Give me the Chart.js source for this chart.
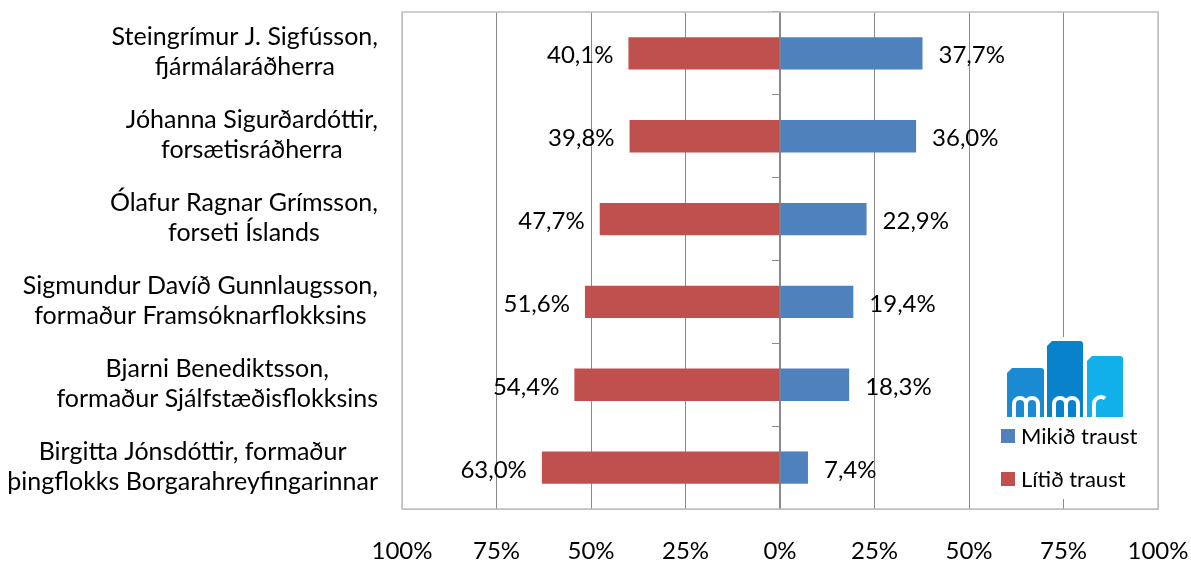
<!DOCTYPE html>
<html lang="is">
<head>
<meta charset="UTF-8">
<title>Traust</title>
<script src="https://cdn.jsdelivr.net/npm/chart.js@4.4.1/dist/chart.umd.min.js"></script>
<style>
  html, body { margin: 0; padding: 0; background: #fff; }
</style>
</head>
<body>
<canvas id="trustChart" width="1191" height="561"></canvas>
<script>
// data
var people = [
  ['Steingrímur J. Sigfússon,', 'fjármálaráðherra'],
  ['Jóhanna Sigurðardóttir,', 'forsætisráðherra'],
  ['Ólafur Ragnar Grímsson,', 'forseti Íslands'],
  ['Sigmundur Davíð Gunnlaugsson,', 'formaður Framsóknarflokksins'],
  ['Bjarni Benediktsson,', 'formaður Sjálfstæðisflokksins'],
  ['Birgitta Jónsdóttir, formaður', 'þingflokks Borgarahreyfingarinnar']
];
var mikidTraust = [37.7, 36.0, 22.9, 19.4, 18.3, 7.4];
var litidTraust = [40.1, 39.8, 47.7, 51.6, 54.4, 63.0];
var xTickValues = [-100, -75, -50, -25, 0, 25, 50, 75, 100];

var FONT = 'Lato';
var blue = '#4F81BD';
var red = '#C0504D';

function pct(v) {
  return Math.abs(v).toFixed(1).replace('.', ',') + '%';
}

// two-line category labels, block right aligned, lines centred inside block
var categoryLabels = {
  id: 'categoryLabels',
  afterDraw: function(chart) {
    var ctx = chart.ctx;
    var yScale = chart.scales.y;
    var right = chart.chartArea.left - 24;
    ctx.save();
    ctx.font = '25px ' + FONT;
    ctx.fillStyle = '#000';
    ctx.textAlign = 'center';
    ctx.textBaseline = 'alphabetic';
    people.forEach(function(lines, i) {
      var w = Math.max.apply(null, lines.map(function(l) { return ctx.measureText(l).width; }));
      var cx = right - w / 2;
      var cy = yScale.getPixelForValue(i);
      ctx.fillText(lines[0], cx, cy - 8);
      ctx.fillText(lines[1], cx, cy + 22);
    });
    ctx.restore();
  }
};

// value labels at the bar ends
var valueLabels = {
  id: 'valueLabels',
  afterDatasetsDraw: function(chart) {
    var ctx = chart.ctx;
    ctx.save();
    ctx.font = '24px ' + FONT;
    ctx.fillStyle = '#000';
    ctx.textBaseline = 'alphabetic';
    chart.data.datasets.forEach(function(ds, di) {
      var meta = chart.getDatasetMeta(di);
      meta.data.forEach(function(bar, i) {
        var v = ds.data[i];
        if (v < 0) {
          ctx.textAlign = 'right';
          ctx.fillText(pct(v), bar.x - 15, bar.y + 10);
        } else {
          ctx.textAlign = 'left';
          ctx.fillText(pct(v), bar.x + 16, bar.y + 10);
        }
      });
    });
    ctx.restore();
  }
};

// outer frame of the plot area
var frame = {
  id: 'frame',
  beforeDatasetsDraw: function(chart) {
    var a = chart.chartArea;
    var ctx = chart.ctx;
    ctx.save();
    ctx.strokeStyle = '#bfbfbf';
    ctx.lineWidth = 1.5;
    ctx.strokeRect(a.left, a.top, a.right - a.left, a.bottom - a.top);
    ctx.restore();
  }
};

// mmr logo: three blue blocks with white letters
function drawLogo(ctx, x, y) {
  var base = y + 76;
  var cols = [
    [0, 27, 37, '#1a8bd3', 'm'],
    [40, 0, 36, '#0882cb', 'm'],
    [80, 15, 36, '#12b0ea', 'r']
  ];
  ctx.save();
  cols.forEach(function(c) {
    var l = x + c[0], t = y + c[1], r = l + c[2];
    ctx.fillStyle = c[3];
    ctx.beginPath();
    ctx.moveTo(l, t + 5);
    ctx.lineTo(l + 5, t);
    ctx.lineTo(r - 3, t);
    ctx.quadraticCurveTo(r, t, r, t + 3);
    ctx.lineTo(r, base);
    ctx.lineTo(l, base);
    ctx.closePath();
    ctx.fill();
  });
  ctx.beginPath();
  ctx.rect(x, y, 116, 76);
  ctx.clip();
  ctx.strokeStyle = '#fff';
  ctx.lineWidth = 4;
  ctx.lineCap = 'butt';
  var top = base - 20;
  cols.forEach(function(c) {
    var lx = x + c[0] + 5;
    ctx.beginPath();
    ctx.moveTo(lx + 2, base + 2);
    ctx.lineTo(lx + 2, top + 7);
    if (c[4] === 'm') {
      ctx.arc(lx + 8, top + 7, 6, Math.PI, 0);
      ctx.lineTo(lx + 14, base + 2);
      ctx.moveTo(lx + 14, top + 7);
      ctx.arc(lx + 20, top + 7, 6, Math.PI, 0);
      ctx.lineTo(lx + 26, base + 2);
    } else {
      ctx.arc(lx + 9, top + 7, 7, Math.PI, 1.7 * Math.PI);
    }
    ctx.stroke();
  });
  ctx.restore();
}

// legend with the mmr logo, inside the plot area
var logoLegend = {
  id: 'logoLegend',
  afterDatasetsDraw: function(chart) {
    var ctx = chart.ctx;
    var a = chart.chartArea;
    var x0 = a.right - 160;
    var y0 = a.bottom - 172;
    ctx.save();
    ctx.fillStyle = '#fff';
    ctx.fillRect(x0, y0, 155, 162);
    drawLogo(ctx, x0 + 9, y0 + 4);
    var items = [chart.data.datasets[1], chart.data.datasets[0]];
    ctx.font = '22px ' + FONT;
    ctx.textAlign = 'left';
    ctx.textBaseline = 'alphabetic';
    items.forEach(function(ds, i) {
      var ty = y0 + 92 + i * 43;
      ctx.fillStyle = ds.backgroundColor;
      ctx.fillRect(x0 + 3, ty, 14, 14);
      ctx.fillStyle = '#000';
      ctx.fillText(ds.label, x0 + 23, ty + 15);
    });
    ctx.restore();
  }
};

Chart.defaults.font.family = FONT;
Chart.defaults.color = '#000';

var config = {
  type: 'bar',
  data: {
    labels: people,
    datasets: [
      {
        label: 'Lítið traust',
        data: litidTraust.map(function(v) { return -v; }),
        backgroundColor: red,
        barPercentage: 0.39,
        categoryPercentage: 1
      },
      {
        label: 'Mikið traust',
        data: mikidTraust,
        backgroundColor: blue,
        barPercentage: 0.39,
        categoryPercentage: 1
      }
    ]
  },
  options: {
    indexAxis: 'y',
    responsive: false,
    animation: false,
    devicePixelRatio: 1,
    layout: {
      padding: { left: 402, top: 12, right: 33, bottom: 0 }
    },
    scales: {
      x: {
        type: 'linear',
        stacked: true,
        min: xTickValues[0],
        max: xTickValues[xTickValues.length - 1],
        afterBuildTicks: function(scale) {
          scale.ticks = xTickValues.map(function(v) { return { value: v }; });
        },
        afterFit: function(scale) {
          scale.height = 52;
          scale.paddingLeft = 0;
          scale.paddingRight = 0;
        },
        ticks: {
          padding: 30,
          maxRotation: 0,
          font: { size: 24, lineHeight: 1 },
          callback: function(v) { return Math.abs(v) + '%'; }
        },
        grid: {
          drawTicks: false,
          color: function(c) {
            var v = c.tick ? c.tick.value : 0;
            return (v === -100 || v === 100) ? '#bfbfbf' : '#8a8a8a';
          }
        },
        border: { color: '#bfbfbf' }
      },
      y: {
        type: 'category',
        stacked: true,
        position: { x: 0 },
        offset: true,
        afterFit: function(scale) {
          scale.width = 0;
        },
        ticks: { display: false },
        grid: {
          drawOnChartArea: false,
          drawTicks: true,
          tickLength: 7,
          offset: true,
          color: '#8a8a8a'
        },
        border: { color: '#8a8a8a', width: 1.5 }
      }
    },
    plugins: {
      legend: { display: false },
      tooltip: { enabled: false }
    }
  },
  plugins: [frame, valueLabels, logoLegend, categoryLabels]
};

window.onload = function() {
  var ctx = document.getElementById('trustChart').getContext('2d');
  window.myChart = new Chart(ctx, config);
};
</script>
</body>
</html>
